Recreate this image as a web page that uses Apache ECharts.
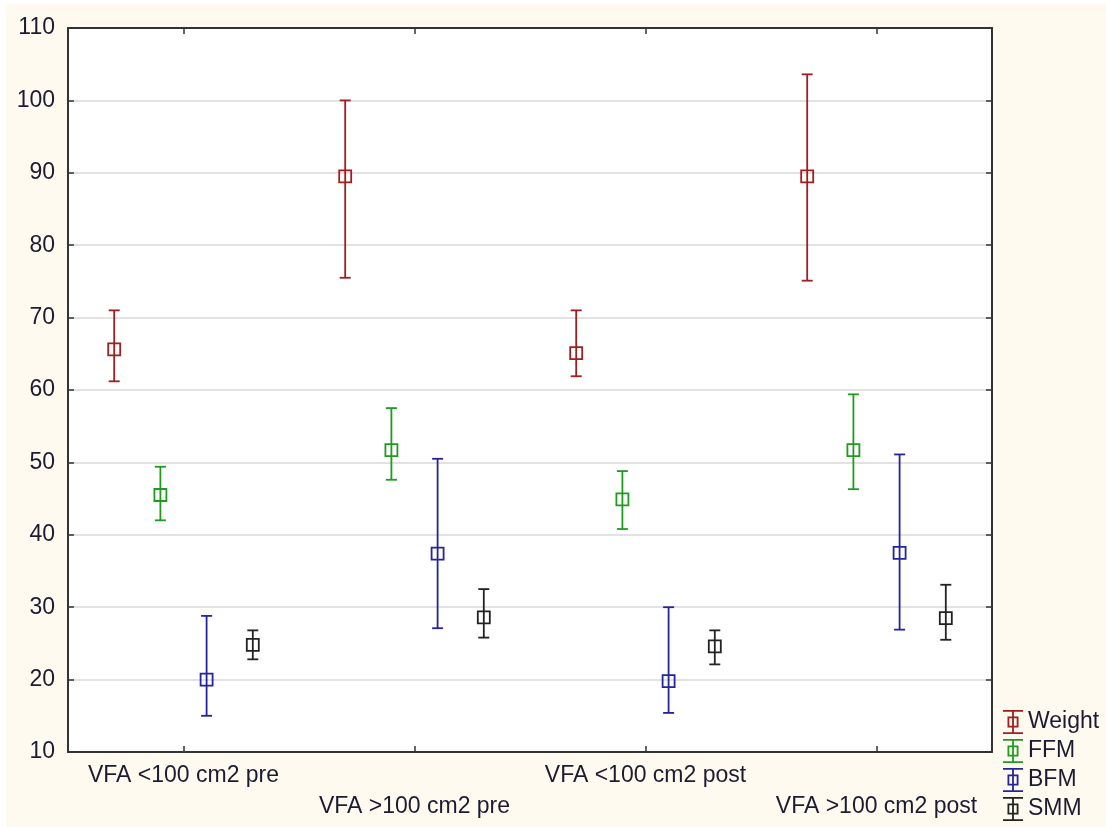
<!DOCTYPE html>
<html>
<head>
<meta charset="utf-8">
<script src="https://cdn.jsdelivr.net/npm/echarts@6/dist/echarts.min.js"></script>
<style>
  html, body { margin:0; padding:0; background:#ffffff; }
  #chart { position:absolute; left:6px; top:4px; width:1100px; height:823px; background:#fefaf0; }
</style>
</head>
<body>
<div id="chart"></div>
<script>
// ---- data ----
const categories = ['VFA <100 cm2 pre', 'VFA >100 cm2 pre', 'VFA <100 cm2 post', 'VFA >100 cm2 post'];
const yTicks = [10, 20, 30, 40, 50, 60, 70, 80, 90, 100, 110];

const weightMean = [65.6, 89.5, 65.1, 89.5];
const weightLow  = [61.2, 75.5, 61.9, 75.1];
const weightHigh = [71.0, 100.0, 71.0, 103.6];

const ffmMean = [45.5, 51.7, 44.9, 51.7];
const ffmLow  = [42.0, 47.6, 40.8, 46.3];
const ffmHigh = [49.4, 57.5, 48.8, 59.4];

const bfmMean = [20.0, 37.4, 19.8, 37.5];
const bfmLow  = [15.0, 27.1, 15.4, 26.9];
const bfmHigh = [28.8, 50.5, 30.0, 51.1];

const smmMean = [24.8, 28.6, 24.6, 28.5];
const smmLow  = [22.8, 25.8, 22.1, 25.5];
const smmHigh = [26.8, 32.5, 26.8, 33.1];

const seriesNames = ['Weight', 'FFM', 'BFM', 'SMM'];
const seriesColors = ['#a01e1e', '#1f9b1f', '#2424a0', '#222222'];
const seriesOffsets = [-0.3, -0.1, 0.1, 0.3];
const seriesData = [
  [weightMean, weightLow, weightHigh],
  [ffmMean, ffmLow, ffmHigh],
  [bfmMean, bfmLow, bfmHigh],
  [smmMean, smmLow, smmHigh]
];

const textColor = '#1c1c30';
const axisColor = '#333333';
const legendIcon = 'path://M0,0H20V1.8H0Z M0,22.2H20V24H0Z M9.1,0H10.9V24H9.1Z M4.5,6.5H15.5V17.5H4.5Z M6.3,8.3V15.7H13.7V8.3Z';

function makeRenderItem(offset) {
  return function (params, api) {
    const c = api.value(0);
    const p = api.coord([c, api.value(1)]);
    const lo = api.coord([c, api.value(2)]);
    const hi = api.coord([c, api.value(3)]);
    const bw = api.size([1, 0])[0];
    const x = p[0] + bw * offset;
    const color = api.visual('color');
    const cap = 5.5, half = 6;
    const st = { stroke: color, lineWidth: 1.8, fill: null };
    return {
      type: 'group',
      children: [
        { type: 'line', shape: { x1: x, y1: hi[1], x2: x, y2: lo[1] }, style: st },
        { type: 'line', shape: { x1: x - cap, y1: hi[1], x2: x + cap, y2: hi[1] }, style: st },
        { type: 'line', shape: { x1: x - cap, y1: lo[1], x2: x + cap, y2: lo[1] }, style: st },
        { type: 'rect', shape: { x: x - half, y: p[1] - half, width: 2 * half, height: 2 * half }, style: { stroke: color, lineWidth: 1.8, fill: 'rgba(0,0,0,0)' } }
      ]
    };
  };
}

const series = seriesNames.map((name, s) => ({
  name: name,
  type: 'custom',
  xAxisIndex: 0,
  yAxisIndex: 0,
  itemStyle: { color: seriesColors[s] },
  renderItem: makeRenderItem(seriesOffsets[s]),
  encode: { x: 0, y: [1, 2, 3] },
  data: categories.map((_, i) => [i, seriesData[s][0][i], seriesData[s][1][i], seriesData[s][2][i]]),
  z: 3
}));

const chart = echarts.init(document.getElementById('chart'));
chart.setOption({
  animation: false,
  backgroundColor: '#fefaf0',
  grid: { left: 62, top: 24, width: 924, height: 724, show: true, backgroundColor: '#ffffff', borderWidth: 0 },
  legend: {
    orient: 'vertical',
    left: 997,
    top: 706,
    height: 114,
    padding: 0,
    itemWidth: 20,
    itemHeight: 24,
    itemGap: 5,
    icon: legendIcon,
    data: seriesNames,
    textStyle: { fontFamily: 'Liberation Sans, Arial, sans-serif', fontSize: 23, color: textColor },
    selectedMode: false
  },
  xAxis: [
    {
      type: 'category',
      data: categories,
      position: 'bottom',
      boundaryGap: true,
      axisLine: { show: true, lineStyle: { color: axisColor, width: 2 } },
      axisTick: { show: true, inside: true, alignWithLabel: true, length: 6, lineStyle: { color: axisColor, width: 1.5 } },
      axisLabel: {
        interval: 0,
        margin: 8,
        fontFamily: 'Liberation Sans, Arial, sans-serif',
        fontSize: 23,
        color: textColor,
        lineHeight: 31,
        formatter: function (v, i) { return i % 2 === 1 ? '\n' + v : v; }
      },
      splitLine: { show: false }
    },
    {
      type: 'category',
      data: categories,
      position: 'top',
      boundaryGap: true,
      axisLine: { show: true, lineStyle: { color: axisColor, width: 2 } },
      axisTick: { show: true, inside: true, alignWithLabel: true, length: 6, lineStyle: { color: axisColor, width: 1.5 } },
      axisLabel: { show: false },
      splitLine: { show: false }
    }
  ],
  yAxis: [
    {
      type: 'value',
      min: yTicks[0],
      max: yTicks[yTicks.length - 1],
      interval: 10,
      position: 'left',
      axisLine: { show: true, lineStyle: { color: axisColor, width: 2 } },
      axisTick: { show: true, inside: true, length: 6, lineStyle: { color: axisColor, width: 1.5 } },
      axisLabel: {
        margin: 13,
        fontFamily: 'Liberation Sans, Arial, sans-serif',
        fontSize: 23,
        color: textColor
      },
      splitLine: { show: true, lineStyle: { color: '#d9d9d9', width: 1.5 } }
    },
    {
      type: 'value',
      min: yTicks[0],
      max: yTicks[yTicks.length - 1],
      interval: 10,
      position: 'right',
      axisLine: { show: true, lineStyle: { color: axisColor, width: 2 } },
      axisTick: { show: true, inside: true, length: 6, lineStyle: { color: axisColor, width: 1.5 } },
      axisLabel: { show: false },
      splitLine: { show: false }
    }
  ],
  series: series
});
</script>
</body>
</html>
